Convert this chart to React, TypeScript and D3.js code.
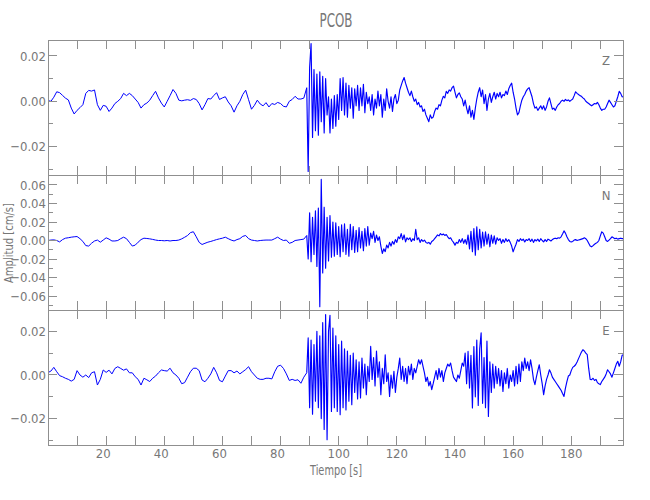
import React from "react";
import * as d3 from "d3";

// ---------------- DATA (units of 1e-4 cm/s) ----------------
// quiet part: t = 0..89 s, one sample per second
// strong part: t = 89.5..198 s, one sample per 0.5 s
const QUIET_STEP = 1;
const STRONG_START = 89.5;
const STRONG_STEP = 0.5;
const UNIT = 1e-4;

const Z_QUIET = [
  3, 0, 18, 42, 38, 26, 14, 6, -30, -56,
  -40, -28, -15, 35, 48, 45, 50, -15, -40, -18,
  -22, -45, -30, -10, 0, 12, 35, 25, 35, 25,
  10, -5, -30, -15, -8, 5, 25, 44, 15, -8,
  -25, 0, 25, 52, 35, 5, 2, 5, 7, 4,
  12, 8, -10, -38, -15, 12, 10, 25, 38, 8,
  15, 20, -3, -20, -48, -20, 0, 30, 49, 7,
  -35, -18, 5, -12, -20, -6, -25, -10, -14, -5,
  -10, -22, -25, 0, 8, 22, 10, 10, 14, 60,
];
const Z_STRONG = [
  -310, 150, 255, -160, 140, -130, 120, -150, 130, -90,
  110, -140, 100, -60, 20, -140, 10, -120, 25, -110,
  30, -80, 100, -40, 105, -60, 80, -70, 70, -30,
  60, -75, 55, -20, 70, -40, 60, -20, 75, -50,
  40, -10, 20, -40, 30, -60, 10, -30, 45, -20,
  30, -70, 10, -40, 55, 0, -30, 20, -45, 10,
  30, -10, 5, 50, 70, 90, 105, 80, 60, 40,
  25, 45, 20, 0, 10, -15, -5, -25, -20, -45,
  -35, -60, -75, -90, -60, -75, -70, -45, -30, -35,
  -15, -20, 5, 22, 15, 44, 35, 50, 45, 60,
  67, 40, 15, 30, 37, 20, 10, -20, 5, -30,
  -55, -20, -70, -40, -80, -30, 10, 40, 60, 20,
  50, -10, 30, -40, 10, 35, -5, 20, 40, 10,
  35, 20, 40, 15, 30, 25, 45, 30, 55, 70,
  80, 40, 10, -30, -60, -50, -20, 5, 20, 30,
  45, 55, 60, 40, 20, -10, -30, -25, -40, -30,
  -20, -35, -20, -40, -25, 0, 15, -10, -35, -30,
  -40, -25, -15, -10, 0, 5, 0, 8, 3, 6,
  0, 5, 10, 25, 42, 35, 30, 25, 22, 15,
  10, 0, -5, -10, -15, -20, -15, -10, -12, -5,
  -15, -30, -40, -35, -35, -25, -10, 5, -5, -15,
  -25, -20, 0, 20, 44, 35, 20, 19,
];

const N_QUIET = [
  0, 5, 7, 0, -15, 10, 25, 30, 36, 40,
  43, 20, -10, -55, -60, -29, -5, 5, -18, 5,
  29, 15, -5, -5, 0, 20, 36, 20, -20, -60,
  -50, -18, 10, 25, 22, 18, 12, 5, 0, 0,
  -3, 0, -5, 0, 0, 5, 18, 35, 54, 85,
  95, 40, -20, -43, -30, -18, -10, 0, 10, 18,
  25, 36, 20, 5, -5, 10, 20, 45, 54, 20,
  5, 0, -5, 0, 3, 5, 5, 5, 20, 36,
  15, 0, 5, -30, -20, 0, 5, 10, 15, 54,
];
const N_STRONG = [
  -200, 300, -230, 250, -150, 320, -280, 350, -716, 660,
  -350, 360, -300, 250, -220, 270, -180, 200, -170, 190,
  -150, 150, -176, 170, -120, 180, -150, 120, -170, 175,
  -100, 150, -130, 110, -120, 140, -80, 100, -110, 130,
  -60, 150, -50, 80, 20, 100, -20, 60, 0, 40,
  -60, -140, -90, -120, -50, -80, -20, -60, -10, -40,
  10, -20, 40, 20, 75, 10, 60, -15, 30, 10,
  30, -10, 20, 0, 120, 10, 30, -20, 10, -10,
  5, -20, -30, -20, -40, -10, 0, 20, 40, 60,
  50, 75, 60, 70, 55, 65, 40, 20, 30, 0,
  -20, -50, -20, -30, 10, -20, 20, -30, 10, -40,
  60, -90, 100, -120, 130, -158, 148, -100, 120, -80,
  90, -60, 94, -40, 70, -68, 60, -30, 50, -40,
  30, 0, 20, -30, 10, -20, 20, -10, 10, -20,
  -60, -122, -80, -40, 10, -10, 20, 0, 15, -15,
  10, 0, 20, -10, 15, -20, 10, -5, 15, -10,
  20, 0, -15, 10, -10, 15, 5, -5, 10, 20,
  25, 20, 30, 25, 40, 70, 104, 80, 40, 10,
  -10, -15, -10, 5, 10, 0, 5, 10, 15, 20,
  30, 20, 0, -30, -60, -68, -55, -40, -30, -20,
  0, 50, 94, 80, 40, 0, -10, 5, 20, 40,
  30, 20, 25, 15, 20, 25, 20, 22,
];

const E_QUIET = [
  11, 18, 35, 15, -3, -8, -15, -20, -28, -20,
  20, 0, -10, 0, -12, 10, 15, -46, -20, 23,
  12, 22, 5, 30, 38, 30, 22, 28, 10, 10,
  -8, -20, -46, -15, -22, -30, -15, -5, 10, 23,
  20, 18, 31, 10, 0, -15, -40, -35, -10, 15,
  31, 31, 20, -23, -31, -15, 5, 35, 10, -25,
  -31, -5, 20, 20, 10, 18, 5, 15, 25, 38,
  15, 0, -15, -20, -20, -15, -15, -18, 15, 40,
  45, 30, 5, -25, -20, -25, -22, -38, -10, 10,
];
const E_STRONG = [
  170, -150, 160, -180, 140, -120, 200, -150, 180, -200,
  240, -250, 277, -297, 200, 274, -167, 215, -150, 180,
  -167, 140, -182, 155, -150, 120, -160, 110, -120, 90,
  -136, 100, -80, 70, -110, 60, -105, 78, -60, 50,
  -90, 40, -30, 131, -20, 80, -50, 110, -10, 60,
  -90, 30, -40, 93, -30, 10, -98, 0, -60, 17,
  -80, -10, 30, 78, -20, 40, -30, 30, -40, 40,
  0, 50, -20, 30, 10, 40, 70, 50, 70, 40,
  10, -30, -10, -50, -30, -67, -40, -10, 20, -20,
  30, -10, 20, -30, 10, 30, 50, 40, 55, 20,
  -10, -20, -30, 0, -15, 20, 55, 40, 100, -40,
  108, -60, 90, -151, 130, -100, 160, -140, 120, 193,
  -130, 80, -150, 155, -190, 60, -80, 50, -60, 40,
  -40, 30, -50, 20, -75, 10, -40, 30, -60, 0,
  -30, 20, -50, 40, -40, 50, -30, 60, 20, 78,
  30, 60, 20, 70, 30, -20, -44, -10, 20, 47,
  0, -40, -90, -50, -20, 0, 24, 10, -10, -20,
  -30, -40, -50, -60, -70, -85, -98, -60, -30, -5,
  0, 20, 35, 40, 47, 60, 75, 90, 105, 116,
  110, 100, 93, 30, -20, -21, -15, -25, -20, -35,
  -40, -44, -30, -20, -10, 5, 24, 15, 5, -10,
  10, 30, 50, 63, 40, 60, 90, 93,
];

const TIME_DOMAIN = [0, 197.8];
const X_TICKS = [10, 20, 30, 40, 50, 60, 70, 80, 90, 100, 110, 120, 130, 140, 150, 160, 170, 180, 190];
const X_LABELS = [20, 40, 60, 80, 100, 120, 140, 160, 180];

const COMPONENTS = ["Z", "N", "E"];
const Y_DOMAINS = [
  [-0.03254, 0.02706],
  [-0.0751, 0.0708],
  [-0.0321, 0.0298],
];
const Y_MAJOR = [
  [-0.02, 0, 0.02],
  [-0.06, -0.04, -0.02, 0, 0.02, 0.04, 0.06],
  [-0.02, 0, 0.02],
];
const Y_MINOR = [
  [-0.03, -0.01, 0.01],
  [-0.07, -0.05, -0.03, -0.01, 0.01, 0.03, 0.05, 0.07],
  [-0.03, -0.01, 0.01],
];

const TITLE = "PCOB";
const X_TITLE = "Tiempo [s]";
const Y_TITLE = "Amplitud [cm/s]";

type Pt = [number, number];

function quietSeries(quiet: number[]): Pt[] {
  return quiet.map((v, i) => [i * QUIET_STEP, v * UNIT] as Pt);
}
function strongSeries(quiet: number[], strong: number[]): Pt[] {
  const last = quiet.length - 1;
  const pts: Pt[] = [[last * QUIET_STEP, quiet[last] * UNIT]];
  strong.forEach((v, i) => pts.push([STRONG_START + i * STRONG_STEP, v * UNIT]));
  return pts;
}

const SERIES = [
  [quietSeries(Z_QUIET), strongSeries(Z_QUIET, Z_STRONG)],
  [quietSeries(N_QUIET), strongSeries(N_QUIET, N_STRONG)],
  [quietSeries(E_QUIET), strongSeries(E_QUIET, E_STRONG)],
];

// ---------------- LAYOUT ----------------
const W = 650;
const H = 500;
const LEFT = 48;
const RIGHT = 623;
const PANEL_TOPS = [40, 175, 310];
const PANEL_H = 135;
const AXIS = "#8f8f8f";
const TEXT = "#777777";
const FONT = "'Liberation Sans Narrow', 'DejaVu Sans Condensed', 'Liberation Sans', sans-serif";

function fmt(v: number) {
  const s = Math.abs(v).toFixed(2);
  return v < 0 ? "\u2212" + s : s;
}

export default function App() {
  const x = d3.scaleLinear().domain(TIME_DOMAIN).range([LEFT, RIGHT]);

  return (
    <svg
      width={W}
      height={H}
      style={{ position: "absolute", left: 0, top: 0, background: "#fff" }}
      fontFamily={FONT}
    >
      <defs>
        {PANEL_TOPS.map((top, i) => (
          <clipPath id={`clip${i}`} key={i}>
            <rect x={LEFT} y={top} width={RIGHT - LEFT} height={PANEL_H} />
          </clipPath>
        ))}
      </defs>
      <text x={336} y={27} textAnchor="middle" fontSize={19} fill={TEXT} textLength={33} lengthAdjust="spacingAndGlyphs">
        {TITLE}
      </text>
      {PANEL_TOPS.map((top, i) => {
        const bottom = top + PANEL_H;
        const y = d3.scaleLinear().domain(Y_DOMAINS[i]).range([bottom, top]);
        const line = d3
          .line<Pt>()
          .x((d) => x(d[0]))
          .y((d) => y(d[1]));
        return (
          <g key={i}>
            <g clipPath={`url(#clip${i})`} fill="none" stroke="#0000ff" strokeLinejoin="round">
              <path d={line(SERIES[i][0]) || ""} strokeWidth={1} />
              <path d={line(SERIES[i][1]) || ""} strokeWidth={1.15} />
            </g>
            <rect x={LEFT} y={top} width={RIGHT - LEFT} height={PANEL_H} fill="none" stroke={AXIS} strokeWidth={1} shapeRendering="crispEdges" />
            {X_TICKS.map((t) => (
              <g key={t} stroke={AXIS} shapeRendering="crispEdges">
                <line x1={x(t)} x2={x(t)} y1={top} y2={top + 9} />
                <line x1={x(t)} x2={x(t)} y1={bottom} y2={bottom - 9} />
              </g>
            ))}
            {Y_MAJOR[i].map((v) => (
              <g key={"M" + v}>
                <line x1={LEFT} x2={LEFT + 9} y1={y(v)} y2={y(v)} stroke={AXIS} shapeRendering="crispEdges" />
                <line x1={RIGHT} x2={RIGHT - 9} y1={y(v)} y2={y(v)} stroke={AXIS} shapeRendering="crispEdges" />
                <text x={46} y={y(v)} dy="0.36em" textAnchor="end" fontSize={13} fill={TEXT}>
                  {fmt(v)}
                </text>
              </g>
            ))}
            {Y_MINOR[i].map((v) => (
              <g key={"m" + v} stroke={AXIS} shapeRendering="crispEdges">
                <line x1={LEFT} x2={LEFT + 5} y1={y(v)} y2={y(v)} />
                <line x1={RIGHT} x2={RIGHT - 5} y1={y(v)} y2={y(v)} />
              </g>
            ))}
            <text x={606} y={top + 25} textAnchor="middle" fontSize={13} fill={TEXT}>
              {COMPONENTS[i]}
            </text>
          </g>
        );
      })}
      {X_LABELS.map((t) => (
        <text key={t} x={x(t) + (t < 100 ? -3 : 0)} y={458} textAnchor="middle" fontSize={13} fill={TEXT}>
          {t}
        </text>
      ))}
      <text x={336} y={475} textAnchor="middle" fontSize={14} fill={TEXT} textLength={52} lengthAdjust="spacingAndGlyphs">
        {X_TITLE}
      </text>
      <text
        transform="translate(13,243) rotate(-90)"
        textAnchor="middle"
        fontSize={13}
        fill={TEXT}
        textLength={80}
        lengthAdjust="spacingAndGlyphs"
      >
        {Y_TITLE}
      </text>
    </svg>
  );
}
